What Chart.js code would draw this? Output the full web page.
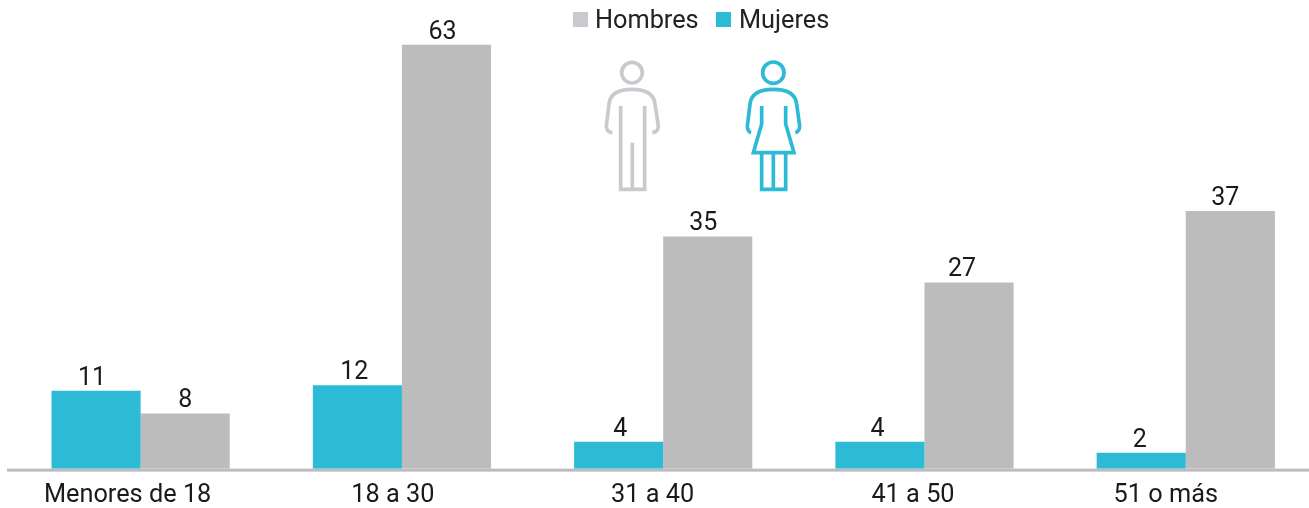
<!DOCTYPE html>
<html>
<head>
<meta charset="utf-8">
<style>
  html, body { margin: 0; padding: 0; background: #fff; }
  #wrap { position: relative; width: 1309px; height: 508px; overflow: hidden; }
  #chart { position: absolute; left: 0; top: 0; }
  #icons { position: absolute; left: 560px; top: 0; }
</style>
<script src="https://cdn.jsdelivr.net/npm/chart.js@4"></script>
</head>
<body>
<div id="wrap">
  <canvas id="chart" width="1320" height="508"></canvas>
  <svg id="icons" width="290" height="200" viewBox="0 0 870 600" fill="none" stroke-width="11">
    <g stroke="#C8CACD">
      <circle cx="216" cy="218" r="31"/>
      <path d="M157 398 Q139 396 139 378 L147 312 Q152 268 216 268 Q280 268 285 312 L295 378 Q295 396 277 398"/>
      <path d="M182 318 V568 H254 V318"/>
      <path d="M217 428 V568"/>
    </g>
    <g stroke="#2DBAD5">
      <circle cx="640" cy="218" r="32"/>
      <path d="M573 398 Q562 394 562 378 L570 312 Q575 268 640 268 Q705 268 710 312 L719 378 Q719 394 706 398"/>
      <path d="M605 318 V372 L580 458 H702 L677 372 V318"/>
      <path d="M605 458 V568 H677 V458"/>
      <path d="M640 458 V568"/>
    </g>
  </svg>
</div>
<script>
const categories = ['Menores de 18', '18 a 30', '31 a 40', '41 a 50', '51 o más'];

// printed labels
const mujeresLabels = [11, 12, 4, 4, 2];
const hombresLabels = [8, 63, 35, 27, 37];

// bar heights, they are not exactly proportional to the labels
const mujeresHeights = [11.3, 12.1, 3.9, 3.9, 2.3];
const hombresHeights = [8, 61.5, 33.7, 27, 37.4];

const fontFamily = 'Roboto, sans-serif';

// the reference's labels are not centred on their bars
const valueNudge = [[-4, -3, 1.5, -2.5, -1.5], [0, -4, -4.5, -7, -5]];
const tickNudge = [-13, -9, -10.5, -11.5, -20];

const valueLabels = {
    id: 'valueLabels',
    afterDatasetsDraw(chart) {
        const ctx = chart.ctx;
        const labels = [mujeresLabels, hombresLabels];
        ctx.save();
        ctx.font = '25px ' + fontFamily;
        ctx.fillStyle = '#1a1a1a';
        ctx.textAlign = 'center';
        ctx.textBaseline = 'bottom';
        chart.data.datasets.forEach((ds, i) => {
            chart.getDatasetMeta(i).data.forEach((bar, j) => {
                ctx.fillText(labels[i][j], bar.x + valueNudge[i][j], bar.y);
            });
        });
        ctx.restore();
    }
};

const baseline = {
    id: 'baseline',
    beforeDatasetsDraw(chart) {
        const ctx = chart.ctx;
        const y = chart.scales.y.getPixelForValue(0);
        ctx.save();
        ctx.fillStyle = '#BCBCBC';
        ctx.fillRect(chart.chartArea.left - 3, y, 1309, 3);
        ctx.restore();
    }
};

const shiftTicks = {
    id: 'shiftTicks',
    beforeDraw(chart) {
        chart.scales.x.getLabelItems(chart.chartArea).forEach((item, i) => {
            item.options.translation[0] += tickNudge[i];
        });
    }
};

// legend sits right of the plot centre and has a grey lighter than the bars
const topLegend = {
    id: 'topLegend',
    afterDraw(chart) {
        const ctx = chart.ctx;
        ctx.save();
        ctx.font = '25.3px ' + fontFamily;
        ctx.fillStyle = '#222222';
        ctx.textBaseline = 'middle';
        ctx.fillText('Hombres', 595, 22);
        ctx.fillText('Mujeres', 739, 22);
        ctx.fillStyle = '#C8CACD';
        ctx.fillRect(573, 12, 15, 15);
        ctx.fillStyle = '#2DBAD5';
        ctx.fillRect(716, 12, 15, 15);
        ctx.restore();
    }
};

new Chart(document.getElementById('chart').getContext('2d'), {
    type: 'bar',
    data: {
        labels: categories,
        datasets: [
            { label: 'Mujeres', data: mujeresHeights, backgroundColor: '#2DBAD5', categoryPercentage: 0.682, barPercentage: 1 },
            { label: 'Hombres', data: hombresHeights, backgroundColor: '#BCBCBC', categoryPercentage: 0.682, barPercentage: 1 }
        ]
    },
    options: {
        responsive: false,
        animation: false,
        layout: { padding: { left: 10, right: 3.6, top: 0, bottom: -15 } },
        plugins: {
            tooltip: { enabled: false },
            legend: { display: false }
        },
        scales: {
            x: {
                grid: { display: false, drawTicks: false },
                border: { display: false },
                ticks: {
                    color: '#1a1a1a',
                    padding: 12,
                    maxRotation: 0,
                    font: { family: fontFamily, size: 25.3 }
                }
            },
            y: {
                display: false,
                min: 0,
                max: 68
            }
        }
    },
    plugins: [baseline, shiftTicks, valueLabels, topLegend]
});
</script>
</body>
</html>
